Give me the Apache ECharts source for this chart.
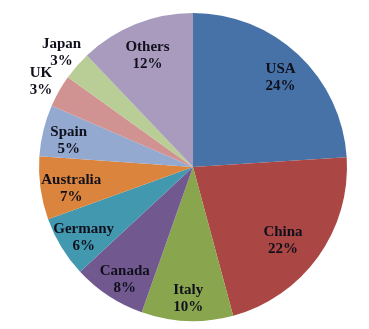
<!DOCTYPE html>
<html>
<head>
<meta charset="utf-8">
<style>html,body{margin:0;padding:0;background:#fff}#c{width:369px;height:329px}</style>
<script src="https://cdn.jsdelivr.net/npm/echarts@6/dist/echarts.min.js"></script>
</head>
<body>
<div id="c"></div>
<script>
const categories = ['USA','China','Italy','Canada','Germany','Australia','Spain','UK','Japan','Others'];
const values = [24, 21.8, 9.6, 7.7, 6.4, 6.6, 5.4, 3.4, 3.0, 12.1];
const percentLabels = ['24%','22%','10%','8%','6%','7%','5%','3%','3%','12%'];
const colors = ['#4672a8','#aa4643','#89a54e','#71588f','#4198af','#db843d','#93a9cf','#d19392','#b9cd96','#a99bbd'];
const outerLabelItems = ['UK','Japan'];

const chart = echarts.init(document.getElementById('c'), null, {renderer:'canvas'});
const center = [193, 167];
const labelStyle = {
  fontFamily: '"Liberation Serif", "Times New Roman", serif',
  fontWeight: 'bold', fontSize: 15, lineHeight: 17, color: '#10101c'
};
function mkData(showFn) {
  return categories.map((c, i) => ({
    name: c, value: values[i],
    label: {show: showFn(c)}
  }));
}
const fmt = p => p.name + '\n' + percentLabels[p.dataIndex];
const nudge = {China: [-14, -5], Australia: [5, 0], Others: [2, 3], Canada: [2, 2]};
const layoutFn = p => {
  const n = nudge[categories[p.dataIndex]] || [0, 0];
  return {dx: n[0], dy: 4 + n[1], hideOverlap: false};
};
chart.setOption({
  animation: false,
  series: [
    {
      type: 'pie', center: center, radius: [0, 154], startAngle: 90, clockwise: true,
      silent: true, label: {show: false}, labelLine: {show: false},
      itemStyle: {borderWidth: 0},
      data: categories.map((c, i) => ({name: c, value: values[i], itemStyle: {color: colors[i]}}))
    },
    {
      type: 'pie', center: center, radius: [98, 152], startAngle: 90, clockwise: true,
      silent: true, avoidLabelOverlap: false, itemStyle: {color: 'transparent'}, labelLine: {show: false},
      label: Object.assign({position: 'inside', formatter: fmt}, labelStyle),
      labelLayout: layoutFn,
      data: mkData(c => outerLabelItems.indexOf(c) < 0)
    },
    {
      type: 'pie', center: center, radius: [160, 188], startAngle: 90, clockwise: true,
      silent: true, avoidLabelOverlap: false, itemStyle: {color: 'transparent'}, labelLine: {show: false},
      label: Object.assign({position: 'inside', formatter: fmt}, labelStyle),
      labelLayout: p => ({dx: 2, dy: 2, hideOverlap: false}),
      data: mkData(c => outerLabelItems.indexOf(c) >= 0)
    }
  ]
});
</script>
</body>
</html>
